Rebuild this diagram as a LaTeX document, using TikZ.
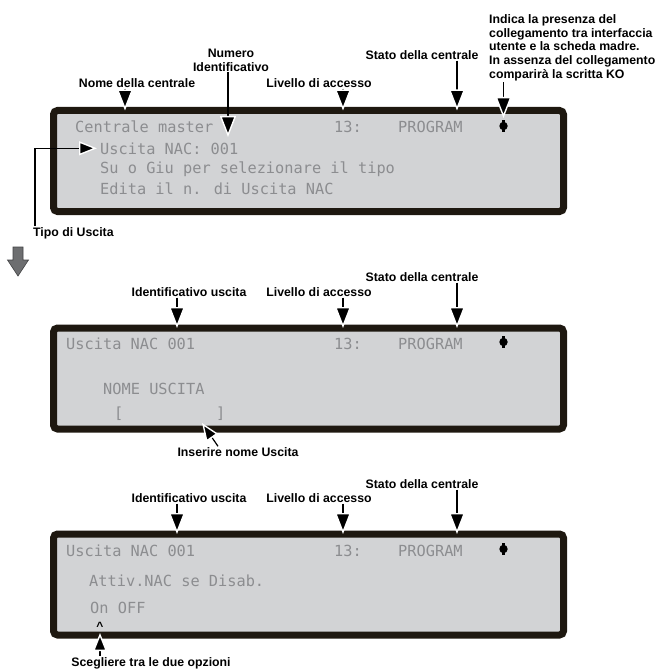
\documentclass[tikz,border=0pt]{standalone}
\usepackage{fontspec}
\setmainfont{Liberation Sans}
\newfontfamily\lcdfont{DejaVu Sans Mono}
\usetikzlibrary{arrows.meta,positioning}
\definecolor{lcdframe}{HTML}{1E1810}
\definecolor{lcdpanel}{HTML}{D2D3D5}
\definecolor{lcdink}{HTML}{8C8D90}
\definecolor{flowgray}{HTML}{6D6E70}
\tikzset{
  lcd/.style={draw=lcdframe, fill=lcdpanel, line width=7pt, rounded corners=4pt, outer sep=0pt, inner sep=0pt, minimum width=510pt, minimum height=101pt},
  lcdtxt/.style={anchor=base west, inner sep=0pt, text=lcdink, font=\lcdfont\fontsize{15.3}{16}\selectfont},
  lbl/.style={font=\bfseries\fontsize{12.3}{13.9}\selectfont, inner sep=1pt, align=center},
  callout/.style={line width=1.2pt, -{Triangle[width=16pt, length=21pt, color=white, fill=black, line width=1.4pt]}},
  smallcallout/.style={line width=1.2pt, -{Triangle[width=14pt, length=18pt, color=white, fill=black, line width=1.4pt]}},
}

\begin{document}
\begin{tikzpicture}[x=1pt, y=-1pt]
  \useasboundingbox (0,0) rectangle (655,671);
  % the three displays, with what every one of them shows on its first row
  \foreach \p/\c/\b/\ly/\sy in {1/161/133/83/55, 2/378.5/349/292/277, 3/584.5/556/498/484} {
    \node[lcd] (lcd\p) at (308.5,\c) {};
    \node[lcdtxt] (lvl\p) at (334,\b) {13:};
    \node[lcdtxt] (prog\p) at (398,\b) {PROGRAM};
    \fill[black] (503.5,\b-7) circle (4.2pt);
    \fill[black] (502.3,\b-13) rectangle (504.7,\b-1);
    \node[lbl] (acc\p) at (319,\ly) {Livello di accesso};
    \node[lbl] (stato\p) at (422,\sy) {Stato della centrale};
    \coordinate (accTip\p) at (343,\c-50.5);
    \coordinate (statoTip\p) at (457,\c-50.5);
    \draw[callout] (acc\p.south -| accTip\p) -- (accTip\p);
    \draw[callout] (stato\p.south -| statoTip\p) -- (statoTip\p);
  }
  \foreach \p/\c/\ly in {2/378.5/292, 3/584.5/498} {
    \node[lbl] (ident\p) at (189,\ly) {Identificativo uscita};
    \coordinate (identTip\p) at (177,\c-50.5);
    \draw[callout] (ident\p.south -| identTip\p) -- (identTip\p);
  }

  % first display
  \node[lcdtxt] (nome1t) at (75,133) {Centrale master};
  \node[lcdtxt] (usc1) at (100,154) {Uscita NAC: 001};
  \node[lcdtxt] (su1) at (100,174) {Su o Giu per selezionare il tipo};
  \node[lcdtxt] (edita1) at (100,194) {Edita il n. di Uscita NAC};
  \node[lbl] (nome1) at (137,83) {Nome della centrale};
  \node[lbl] (numero1) at (231,60) {Numero\\Identificativo};
  \node[lbl, anchor=north west, align=left] (link1) at (488,13) {Indica la presenza del\\collegamento tra interfaccia\\utente e la scheda madre.\\In assenza del collegamento\\comparirà la scritta KO};
  \node[lbl, anchor=west] (tipo1) at (32,233) {Tipo di Uscita};
  \coordinate (nomeTip1) at (125,110.5);
  \coordinate (numTip1) at (228,137);
  \coordinate (linkTip1) at (503.5,118);
  \draw[callout] (nome1.south -| nomeTip1) -- (nomeTip1);
  \draw[callout] (numero1.south -| numTip1) -- (numTip1);
  \draw[callout] (link1.south -| linkTip1) -- (linkTip1);
  \draw[smallcallout] ([xshift=3pt]tipo1.north west) |- ([xshift=-3pt]usc1.west);

  % step to the next display
  \filldraw[fill=flowgray, draw=flowgray!60!black, line width=0.6pt] (13,247) -- (23,247) -- (23,260) -- (28.5,260) -- (18,276) -- (7.5,260) -- (13,260) -- cycle;

  % second display
  \node[lcdtxt] (usc2) at (66,349) {Uscita NAC 001};
  \node[lcdtxt] (nomeu2) at (103,394) {NOME USCITA};
  \node[lcdtxt] (bra2) at (114,418) {[};
  \node[lcdtxt] (ket2) at (216,418) {]};
  \node[lbl] (ins2) at (238,452) {Inserire nome Uscita};
  \coordinate (insTip2) at (202,423);
  \draw[smallcallout] ([xshift=-20pt]ins2.north) -- (insTip2);

  % third display
  \node[lcdtxt] (usc3) at (66,556) {Uscita NAC 001};
  \node[lcdtxt] (attiv3) at (89,586) {Attiv.NAC se Disab.};
  \node[lcdtxt] (onoff3) at (90,613) {On OFF};
  \node[font=\bfseries\fontsize{12}{12}\selectfont, inner sep=0pt, anchor=base] (caret3) at (100,630) {\textasciicircum};
  \node[lbl] (scegli3) at (151,663) {Scegliere tra le due opzioni};
  \coordinate (sceTip3) at (100,633);
  \draw[smallcallout] (scegli3.north -| sceTip3) -- (sceTip3);
\end{tikzpicture}
\end{document}
